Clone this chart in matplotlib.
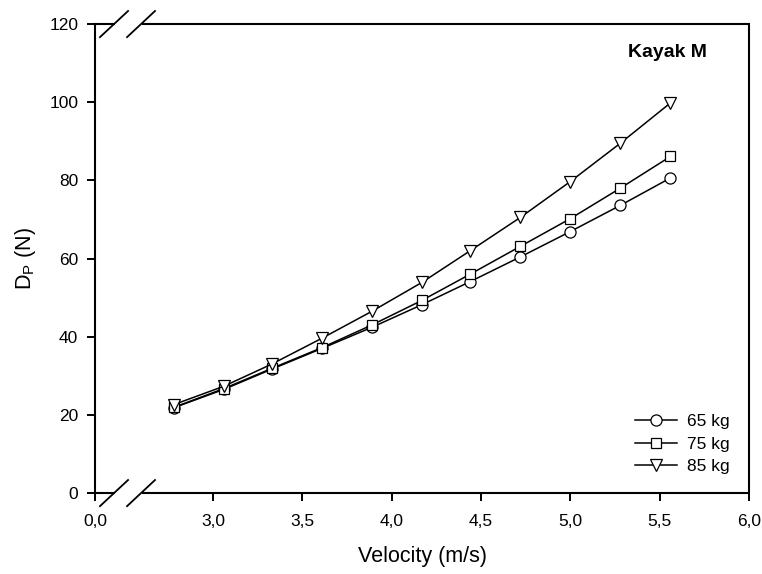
import matplotlib
matplotlib.use("Agg")
import matplotlib.pyplot as plt

plt.rcParams['font.family'] = ['Liberation Sans', 'DejaVu Sans']
plt.rcParams['mathtext.fontset'] = 'custom'
plt.rcParams['mathtext.rm'] = 'Liberation Sans'
plt.rcParams['mathtext.it'] = 'Liberation Sans:italic'

# Data (velocity in m/s: 10..20 km/h)
velocity = [2.78, 3.06, 3.33, 3.61, 3.89, 4.17, 4.44, 4.72, 5.00, 5.28, 5.56]
dp_65 = [21.8, 26.5, 31.7, 37.0, 42.4, 48.2, 54.1, 60.4, 66.9, 73.6, 80.6]
dp_75 = [21.9, 26.7, 31.9, 37.2, 43.0, 49.3, 56.0, 63.1, 70.2, 78.0, 86.1]
dp_85 = [22.6, 27.3, 33.0, 39.6, 46.5, 53.9, 62.0, 70.5, 79.7, 89.5, 99.8]
labels = ["65 kg", "75 kg", "85 kg"]
x_tick_vals = [3.0, 3.5, 4.0, 4.5, 5.0, 5.5, 6.0]
x_tick_labels = ["0,0", "3,0", "3,5", "4,0", "4,5", "5,0", "5,5", "6,0"]
y_ticks = [0, 20, 40, 60, 80, 100, 120]

# broken-axis: the "0,0" position is drawn just left of 3.0
x_break_pos = 2.34

fig = plt.figure(figsize=(7.62, 5.74), dpi=100)
ax = fig.add_axes([0.1247, 0.1411, 0.8583, 0.8171])

ms = 8
mew = 0.9
lw = 1.1
ax.plot(velocity, dp_65, '-o', color='black', mfc='white', mec='black', ms=ms, mew=mew, lw=lw, label=labels[0], zorder=3)
ax.plot(velocity, dp_75, '-s', color='black', mfc='white', mec='black', ms=7.3, mew=mew, lw=lw, label=labels[1], zorder=3)
ax.plot(velocity, dp_85, '-v', color='black', mfc='white', mec='black', ms=ms + 0.5, mew=mew, lw=lw, label=labels[2], zorder=3)

ax.set_xlim(x_break_pos, 6.0)
ax.set_ylim(0, 120)
ax.set_xticks([x_break_pos] + x_tick_vals)
ax.set_xticklabels(x_tick_labels)
ax.set_yticks(y_ticks)
ax.set_yticklabels([str(v) for v in y_ticks])

ax.tick_params(direction='out', length=6, width=1.4, labelsize=12.5, colors='black')
ax.tick_params(axis='x', pad=9)
ax.tick_params(axis='y', pad=6)

for s in ['left', 'right']:
    ax.spines[s].set_linewidth(1.5)
ax.spines['top'].set_visible(False)
ax.spines['bottom'].set_visible(False)

# draw broken top/bottom spines
g0, g1 = 0.0306, 0.0719
for yy in (0.0, 1.0):
    ax.plot([0, g0], [yy, yy], transform=ax.transAxes, color='black', lw=1.5, clip_on=False, solid_capstyle='butt')
    ax.plot([g1, 1.0], [yy, yy], transform=ax.transAxes, color='black', lw=1.5, clip_on=False, solid_capstyle='butt')
    for (xa, xb) in ((0.0076, 0.0505), (0.049, 0.0917)):
        ax.plot([xa, xb], [yy - 0.028, yy + 0.0277], transform=ax.transAxes, color='black', lw=1.3, clip_on=False)

ax.set_xlabel("Velocity (m/s)", fontsize=15.5, labelpad=12)
ax.set_ylabel(r"D$_\mathrm{P}$ (N)", fontsize=15.5, labelpad=8)

ax.text(0.935, 0.94, "Kayak M", transform=ax.transAxes, ha='right', va='center', fontsize=14, fontweight='bold')

leg = ax.legend(loc='lower right', bbox_to_anchor=(0.981, 0.025), frameon=False, fontsize=12.5,
                handlelength=2.4, handletextpad=0.6, labelspacing=0.42, borderaxespad=0.0)

fig.savefig("out.png", dpi=100)
